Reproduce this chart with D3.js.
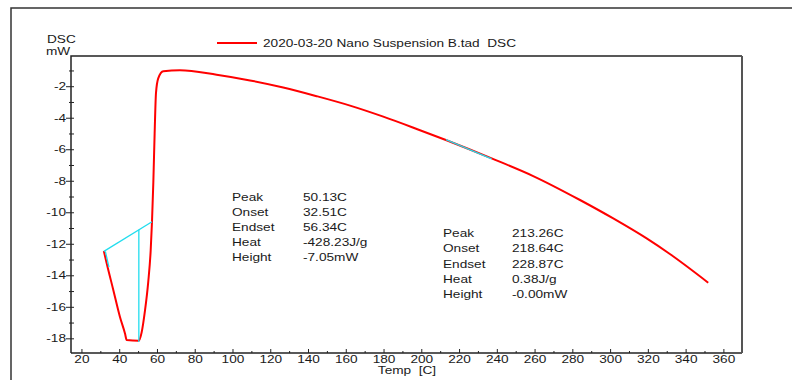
<!DOCTYPE html>
<html>
<head>
<meta charset="utf-8">
<script src="https://cdn.jsdelivr.net/npm/d3@7"></script>
<style>
    body { margin: 0; background: #fff; }
    text { font-family: "Liberation Sans", Arial, sans-serif; fill: #1a1a1a; white-space: pre; }
</style>
</head>
<body>
<div id="graph"></div>
<script>
// DSC curve (temperature C, heat flow mW)
const temps = [31.6, 33.1, 36.6, 40.1, 42.8, 43.7, 50.0, 51.6, 53.4, 55.1, 56.4, 57.1, 57.8, 58.5, 59.2, 60.4, 63.1,
    71.9, 91.3, 109, 126.6, 144.3, 162, 179.6, 197.3, 213.1, 237.0, 259.0, 283.8, 301.4, 319.1, 331.4, 351.7];
const dsc = [-12.43, -13.2, -14.9, -16.6, -17.66, -18.08, -18.13, -17.6, -16.2, -14.4, -12.4, -10.57, -8.1, -4.96, -2.42, -1.47, -1.02,
    -0.96, -1.24, -1.6, -2.05, -2.6, -3.2, -3.9, -4.68, -5.4, -6.55, -7.67, -9.19, -10.36, -11.63, -12.62, -14.44];

// cyan analysis lines
const baseLine1 = [[31.6, -12.45], [57.1, -10.57]];
const peakLine1 = [[50.13, -11.08], [50.13, -18.2]];
const onsetTick1 = [[32.4, -12.45], [34.3, -13.45]];
const baseLine2 = [[212.8, -5.36], [237.0, -6.58]];

const xTicks = d3.range(20, 361, 20);
const xMinor = d3.range(30, 361, 20);
const yTicks = d3.range(-2, -19, -2);
const yMinor = d3.range(-1, -19, -2);

const legendLabel = '2020-03-20 Nano Suspension B.tad  DSC';
const peak1Labels = ['Peak', 'Onset', 'Endset', 'Heat', 'Height'];
const peak1Values = ['50.13C', '32.51C', '56.34C', '-428.23J/g', '-7.05mW'];
const peak2Values = ['213.26C', '218.64C', '228.87C', '0.38J/g', '-0.00mW'];

const width = 792;
const height = 380;
const plotL = 71, plotR = 742, plotT = 56, plotB = 353;
const stretch = 1.3; // text in the picture is wide

const svg = d3.select('#graph')
    .append('svg')
    .attr('width', width)
    .attr('height', height);

const x = d3.scaleLinear().domain([14.2, 369.6]).range([plotL, plotR]);
const y = d3.scaleLinear().domain([0, -18.9]).range([55.2, plotB]);

function label(txt, px, py, anchor) {
    svg.append('text')
        .attr('transform', `translate(${px},${py}) scale(${stretch},1)`)
        .attr('text-anchor', anchor || 'start')
        .attr('font-size', 10.5)
        .text(txt);
}

// outer frame
svg.append('path')
    .attr('d', `M11,${height} L11,8 L${width},8`)
    .attr('fill', 'none')
    .attr('stroke', '#333')
    .attr('stroke-width', 1.5);

// plot frame
svg.append('path')
    .attr('d', `M${plotL},${plotB} L${plotL},${plotT} L${plotR},${plotT}`)
    .attr('fill', 'none')
    .attr('stroke', '#222')
    .attr('stroke-width', 1.5);
svg.append('line')
    .attr('x1', plotL).attr('x2', plotR)
    .attr('y1', plotB).attr('y2', plotB)
    .attr('stroke', '#222')
    .attr('stroke-width', 1.5);
svg.append('line')
    .attr('x1', plotR).attr('x2', plotR)
    .attr('y1', plotT).attr('y2', plotB)
    .attr('stroke', '#555')
    .attr('stroke-width', 2);

// x ticks
svg.append('g').selectAll('line')
    .data(xTicks)
    .enter()
    .append('line')
    .attr('x1', d => x(d)).attr('x2', d => x(d))
    .attr('y1', plotB).attr('y2', plotB - 4)
    .attr('stroke', '#222');
svg.append('g').selectAll('line')
    .data(xMinor)
    .enter()
    .append('line')
    .attr('x1', d => x(d)).attr('x2', d => x(d))
    .attr('y1', plotB).attr('y2', plotB - 2)
    .attr('stroke', '#222');
xTicks.forEach(t => label(String(t), x(t), 363, 'middle'));

// y ticks
svg.append('g').selectAll('line')
    .data(yTicks)
    .enter()
    .append('line')
    .attr('x1', plotL - 5).attr('x2', plotL + 3)
    .attr('y1', d => y(d)).attr('y2', d => y(d))
    .attr('stroke', '#222');
svg.append('g').selectAll('line')
    .data(yMinor)
    .enter()
    .append('line')
    .attr('x1', plotL - 2).attr('x2', plotL + 3)
    .attr('y1', d => y(d)).attr('y2', d => y(d))
    .attr('stroke', '#222');
yTicks.forEach(t => label(String(t), plotL - 5, y(t) + 3.5, 'end'));

// axis titles
label('DSC', 47, 43);
label('mW', 46, 55);
label('Temp  [C]', 407, 374, 'middle');

// legend
svg.append('line')
    .attr('x1', 217).attr('x2', 257)
    .attr('y1', 43).attr('y2', 43)
    .attr('stroke', '#ff0000')
    .attr('stroke-width', 2);
label(legendLabel, 263, 47);

// the curve
const line = d3.line()
    .x(d => x(d[0]))
    .y(d => y(d[1]))
    .curve(d3.curveMonotoneX);

svg.append('path')
    .datum(temps.map((t, i) => [t, dsc[i]]))
    .attr('d', line)
    .attr('fill', 'none')
    .attr('stroke', '#ff0000')
    .attr('stroke-width', 2);

const straight = d3.line().x(d => x(d[0])).y(d => y(d[1]));
[baseLine1, peakLine1, onsetTick1, baseLine2].forEach(seg => {
    svg.append('path')
        .attr('d', straight(seg))
        .attr('fill', 'none')
        .attr('stroke', '#22ddee')
        .attr('stroke-width', 1.3);
});

// peak analysis text
peak1Labels.forEach((t, i) => {
    label(t, 232, 201 + i * 15);
    label(peak1Values[i], 303, 201 + i * 15);
    label(t, 443, 237 + i * 15.3);
    label(peak2Values[i], 512, 237 + i * 15.3);
});
</script>
</body>
</html>
